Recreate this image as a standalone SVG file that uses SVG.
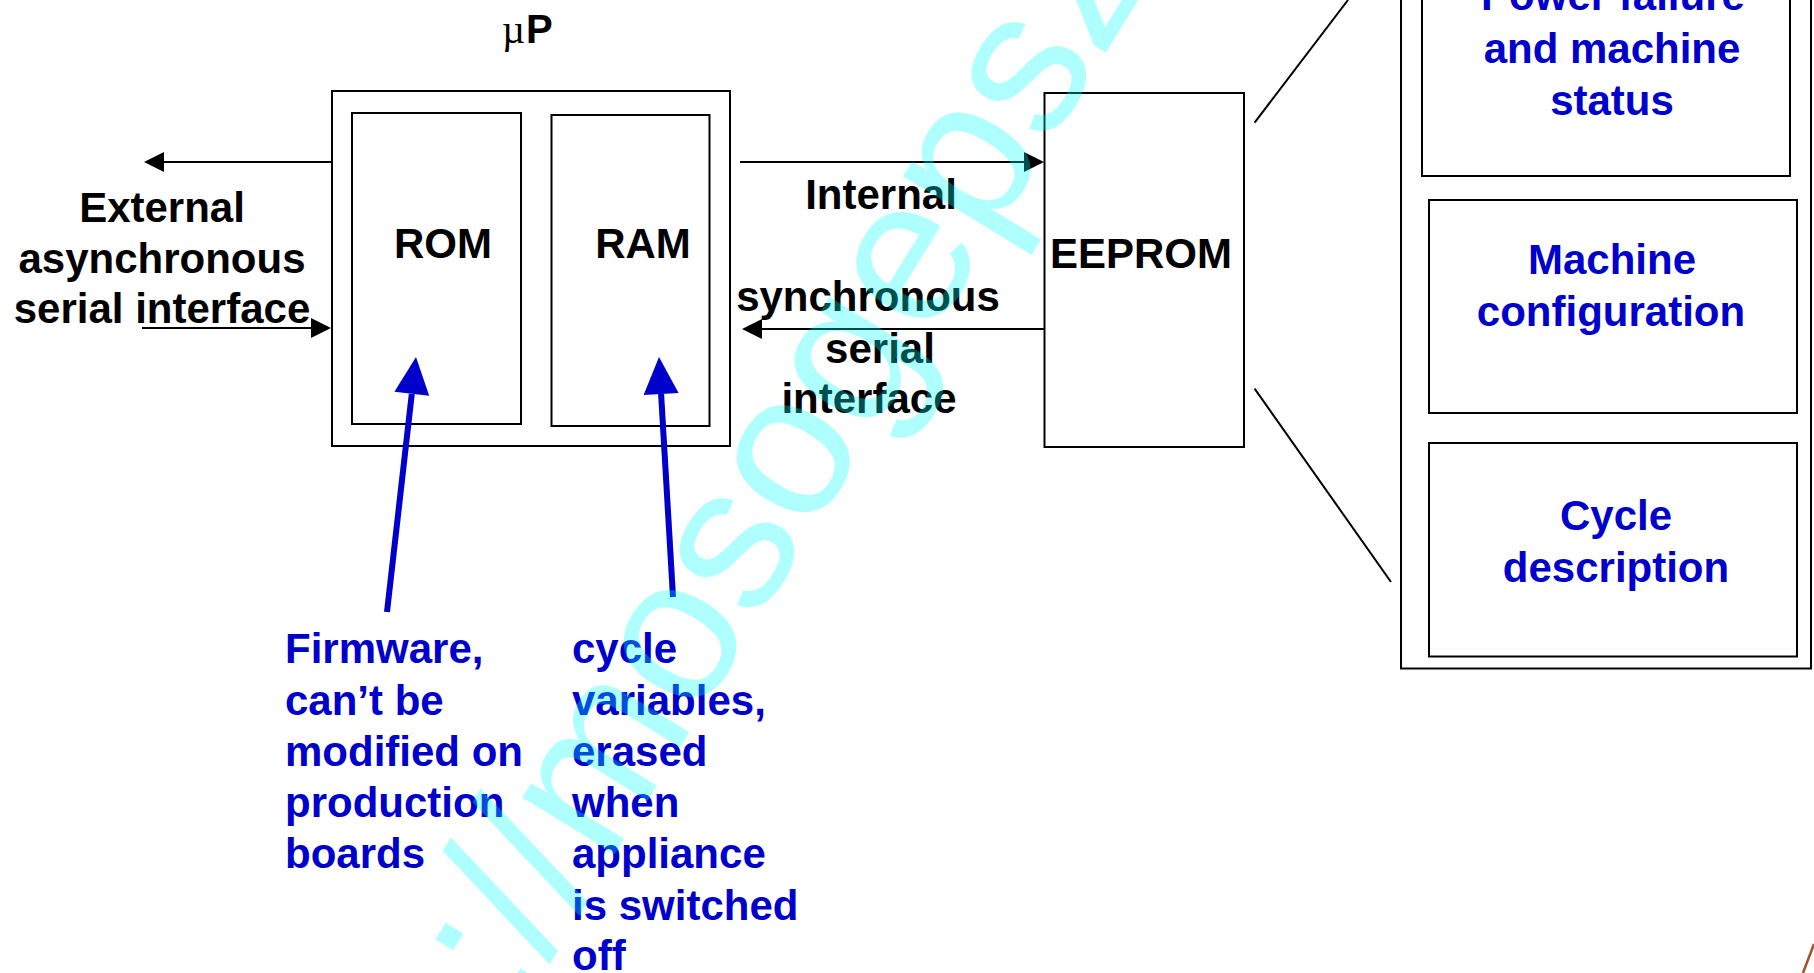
<svg xmlns="http://www.w3.org/2000/svg" width="1814" height="973" viewBox="0 0 1814 973">
<style>
.box{fill:none;stroke:#000;stroke-width:2}
.t{font-family:"Liberation Sans",Arial,sans-serif;font-weight:bold;font-size:42px;fill:#000}
.b{font-family:"Liberation Sans",Arial,sans-serif;font-weight:bold;font-size:42px;fill:#0000CC}
.m{text-anchor:middle}
.ln{stroke:#000;stroke-width:2;fill:none}
.bl{stroke:#0000CC;stroke-width:6;fill:none}
.ah{fill:#000}
.bh{fill:#0000CC}
</style>
<rect width="1814" height="973" fill="#fff"/>
<g id="up-label">
<text x="502" y="43" font-family="'Liberation Serif',serif" font-size="40" fill="#000">µ</text>
<text x="526" y="43" class="t" style="font-size:40px">P</text>
</g>
<g id="microprocessor">
<rect class="box" x="332" y="91" width="398" height="355"/>
</g>
<g id="rom">
<rect class="box" x="352" y="113" width="169" height="311"/>
<text class="t m" x="443" y="258">ROM</text>
</g>
<g id="ram">
<rect class="box" x="551.5" y="115" width="158" height="311"/>
<text class="t m" x="643" y="258">RAM</text>
</g>
<g id="eeprom">
<rect class="box" x="1044.5" y="93" width="199.5" height="354"/>
<text class="t m" x="1141" y="268">EEPROM</text>
</g>
<g id="eeprom-detail">
<rect class="box" x="1401" y="-10" width="410" height="678.5"/>
</g>
<g id="power-failure">
<rect class="box" x="1422" y="-10" width="368" height="186"/>
<text class="b m" x="1613" y="10">Power failure</text>
<text class="b m" x="1612" y="63">and machine</text>
<text class="b m" x="1612" y="115">status</text>
</g>
<g id="machine-config">
<rect class="box" x="1429" y="200" width="368" height="213"/>
<text class="b m" x="1612" y="274">Machine</text>
<text class="b m" x="1611" y="326">configuration</text>
</g>
<g id="cycle-desc">
<rect class="box" x="1429" y="443" width="368" height="213.5"/>
<text class="b m" x="1616" y="530">Cycle</text>
<text class="b m" x="1616" y="582">description</text>
</g>
<g id="external-label">
<text class="t m" x="162" y="222">External</text>
<text class="t m" x="162" y="273">asynchronous</text>
<text class="t m" x="162" y="323">serial interface</text>
</g>
<g id="internal-label">
<text class="t m" x="881" y="209">Internal</text>
<text class="t m" x="868" y="311">synchronous</text>
<text class="t m" x="880" y="363">serial</text>
<text class="t m" x="869" y="413">interface</text>
</g>
<g id="rom-note">
<text class="b" x="285" y="663">Firmware,</text>
<text class="b" x="285" y="715">can’t be</text>
<text class="b" x="285" y="766">modified on</text>
<text class="b" x="285" y="817">production</text>
<text class="b" x="285" y="868">boards</text>
</g>
<g id="ram-note">
<text class="b" x="572" y="663">cycle</text>
<text class="b" x="572" y="715">variables,</text>
<text class="b" x="572" y="766">erased</text>
<text class="b" x="572" y="817">when</text>
<text class="b" x="572" y="868">appliance</text>
<text class="b" x="572" y="920">is switched</text>
<text class="b" x="572" y="970">off</text>
</g>
<g id="connectors">
<line class="ln" x1="331" y1="162" x2="160" y2="162"/>
<polygon class="ah" points="144,162 164,152 164,172"/>
<line class="ln" x1="142" y1="328" x2="315" y2="328"/>
<polygon class="ah" points="331,328 311,318 311,338"/>
<line class="ln" x1="740" y1="162" x2="1028" y2="162"/>
<polygon class="ah" points="1044,162 1024,152 1024,172"/>
<line class="ln" x1="1044" y1="329" x2="758" y2="329"/>
<polygon class="ah" points="742,329 762,319 762,339"/>
<line class="ln" x1="1254.6" y1="122.6" x2="1348" y2="0" stroke-width="1.5"/>
<line class="ln" x1="1254.6" y1="388.7" x2="1391" y2="582" stroke-width="1.5"/>
<line class="bl" x1="387" y1="612" x2="411.8" y2="393.8"/>
<polygon class="bh" points="416,357 429.2,395.8 394.4,391.8"/>
<line class="bl" x1="673" y1="597" x2="661.1" y2="393.9"/>
<polygon class="bh" points="659,357 678.6,392.9 643.6,394.9"/>
</g>
<text transform="translate(518,1012) rotate(-58.5)" x="0" y="0" font-family="'Liberation Sans',Arial,sans-serif" font-size="205" fill="#00FFFF" fill-opacity="0.31">://mosogepsze</text>
<path d="M1814,944 Q1808,960 1803,973" fill="none" stroke="#A0522D" stroke-width="2.5"/>
</svg>
